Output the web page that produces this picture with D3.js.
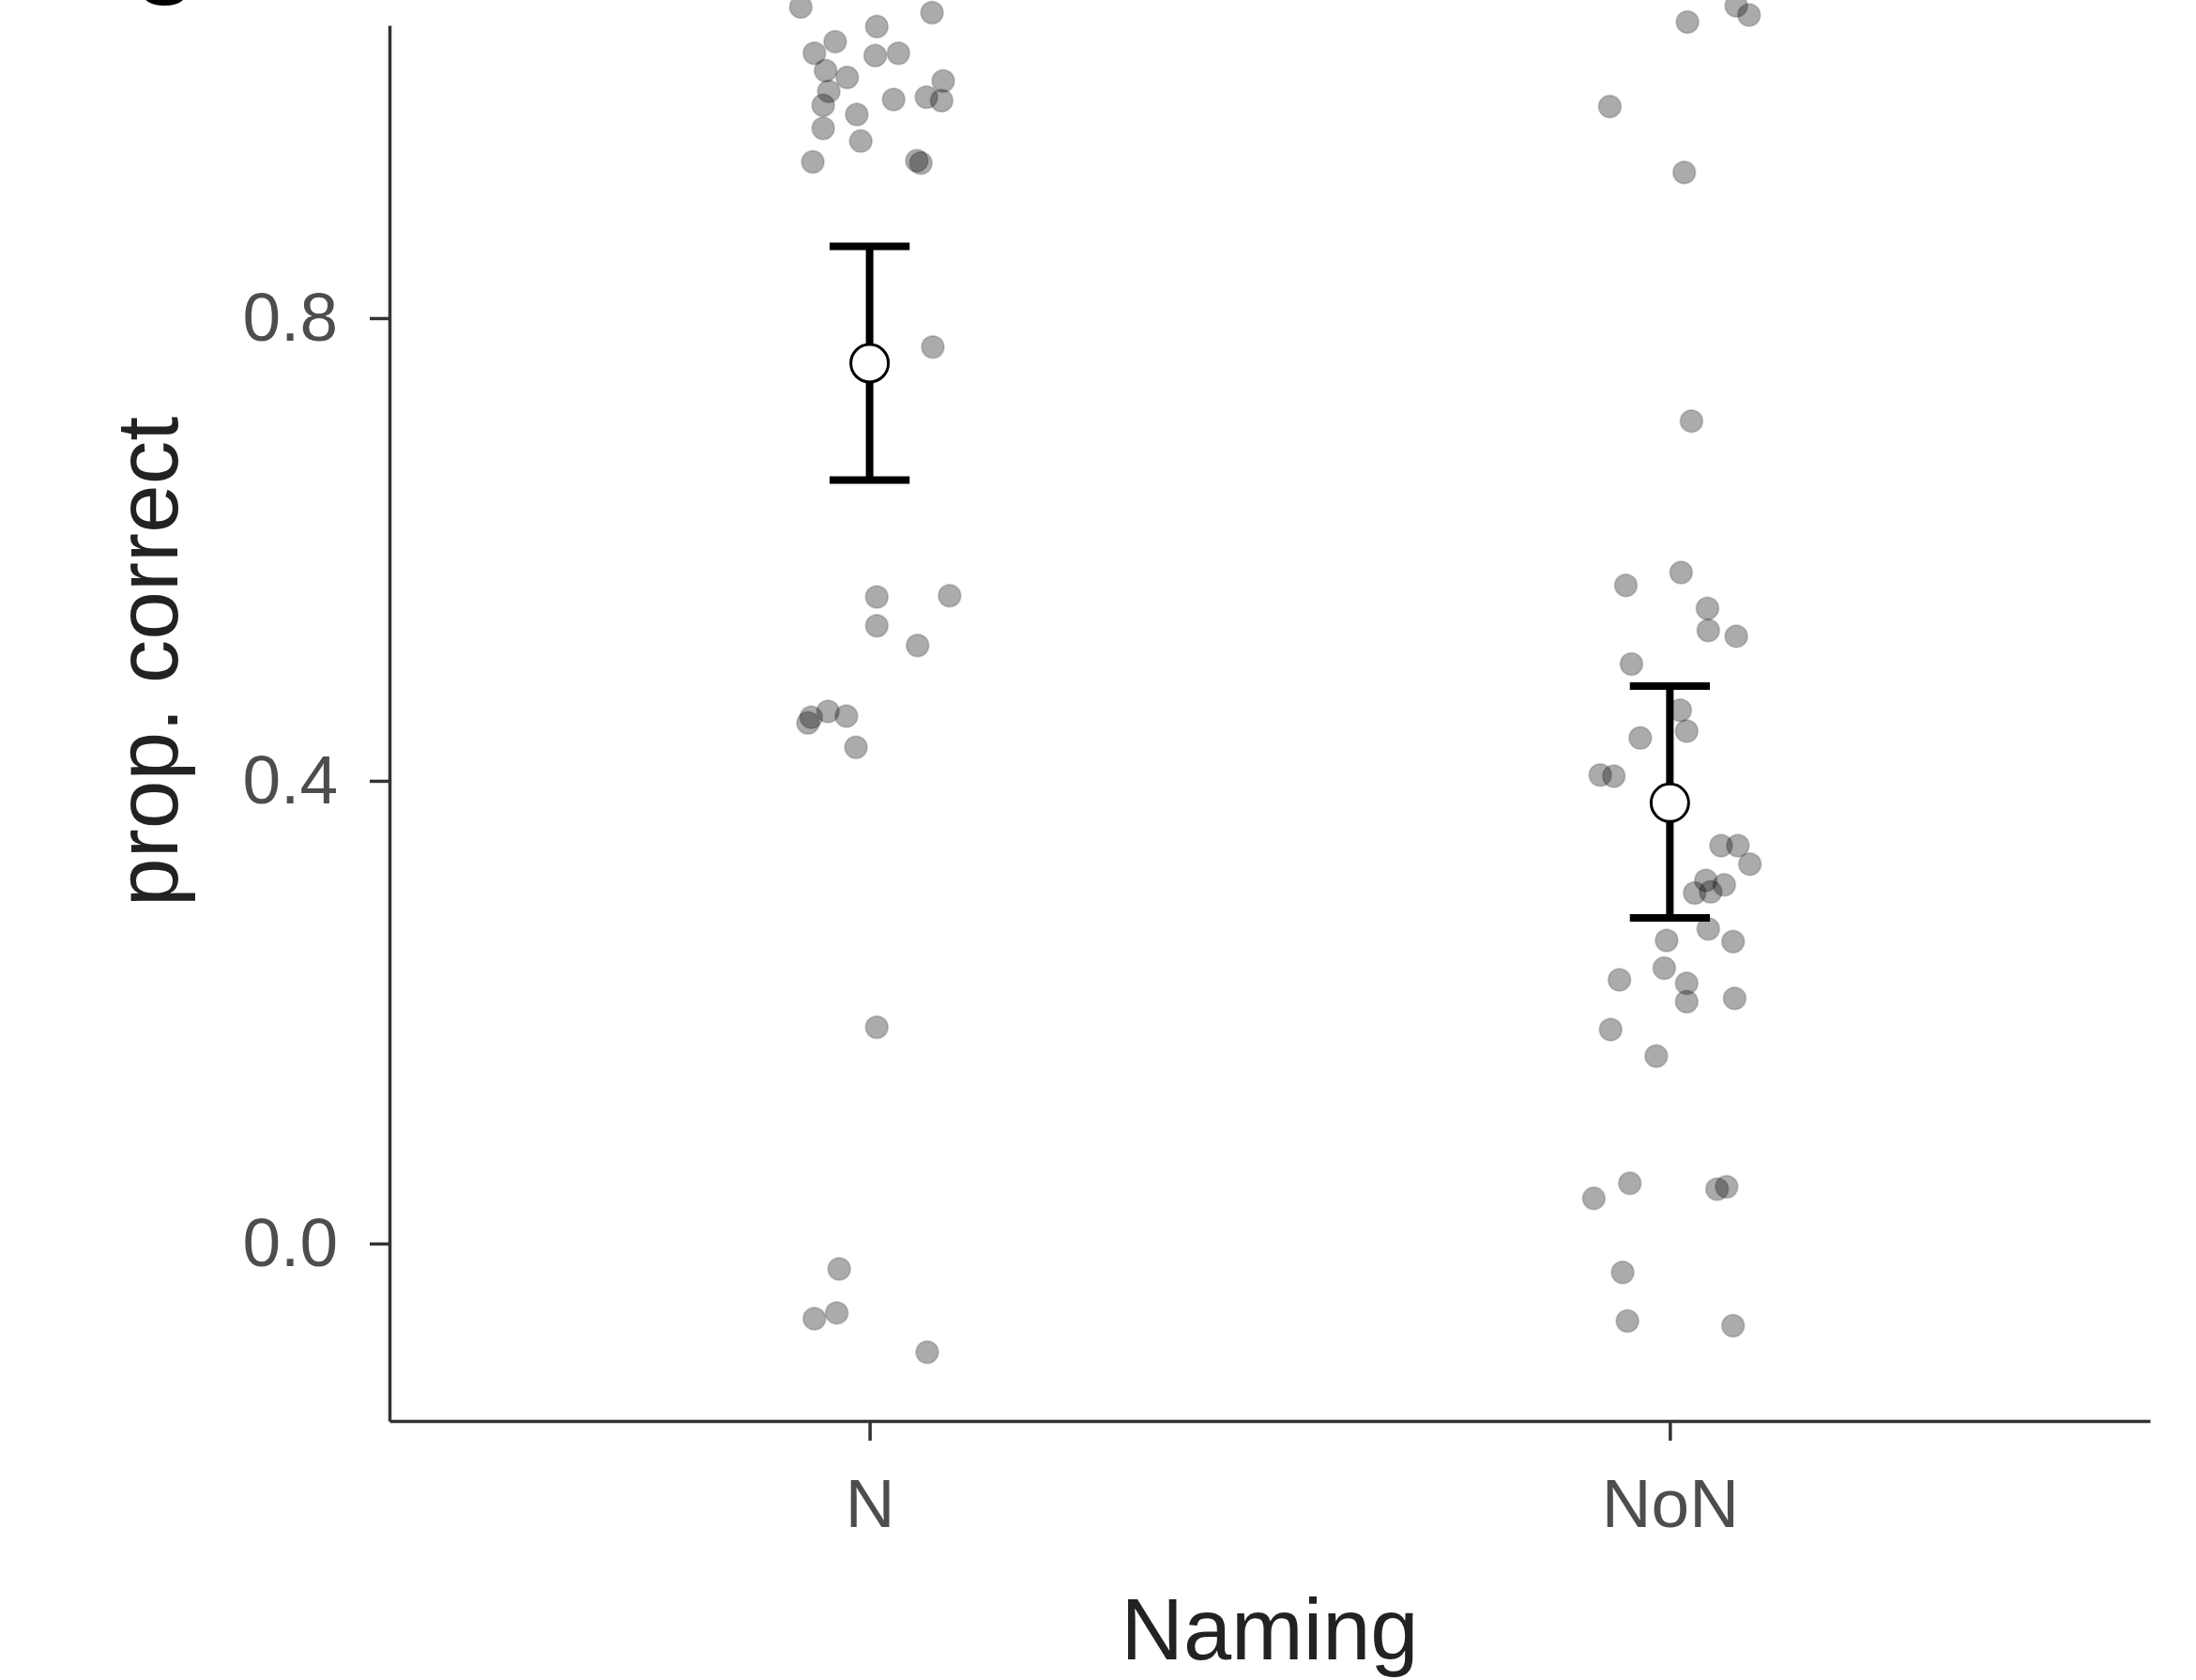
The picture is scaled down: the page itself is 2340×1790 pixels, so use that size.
<!DOCTYPE html>
<html>
<head>
<meta charset="utf-8">
<script src="https://cdn.jsdelivr.net/npm/d3@7"></script>
<style>
  body{margin:0;background:#fff;}
  text{font-family:"Liberation Sans", Arial, sans-serif;}
</style>
</head>
<body>
<div class="chart"></div>
<script>
// categories on the x axis (ggplot style: 1, 2)
const categories = ["N", "NoN"];
const categoryPos = [1, 2];
const yTicks = [0, 0.4, 0.8];

// jittered subject points, group N
const nX = [0.914,1.078,1.009,0.957,0.931,1.007,1.036,0.945,0.972,1.092,0.949,1.030,1.071,1.090,0.942,0.984,0.942,0.989,0.929,1.059,1.064,1.079,1.009,1.100,1.009,1.060,0.923,0.927,0.948,0.971,0.983,1.009,0.962,0.931,0.959,1.072];
const nY = [1.069,1.064,1.052,1.039,1.029,1.027,1.029,1.014,1.008,1.005,0.996,0.989,0.991,0.988,0.984,0.976,0.964,0.953,0.935,0.936,0.934,0.775,0.559,0.560,0.534,0.517,0.450,0.455,0.460,0.456,0.429,0.187,-0.022,-0.065,-0.060,-0.094];

// jittered subject points, group NoN
const nonX = [2.083,2.099,2.022,1.925,2.018,2.027,1.945,2.014,2.047,2.048,2.083,1.952,2.013,2.021,1.963,1.913,1.930,2.064,2.085,2.100,2.045,2.068,2.031,2.051,2.048,1.996,2.079,1.937,1.993,2.021,2.021,2.081,1.926,1.983,1.905,1.950,2.059,2.071,1.941,1.947,2.079];
const nonY = [1.070,1.062,1.056,0.983,0.926,0.711,0.569,0.580,0.549,0.530,0.525,0.501,0.461,0.443,0.437,0.405,0.404,0.344,0.344,0.328,0.314,0.310,0.303,0.304,0.272,0.262,0.261,0.228,0.238,0.225,0.209,0.212,0.185,0.162,0.039,0.052,0.047,0.049,-0.025,-0.067,-0.071];

// group means and error bars
const means = [0.761, 0.381];
const lower = [0.660, 0.2815];
const upper = [0.862, 0.482];

const points = nX.map((d,i)=>({x:d, y:nY[i]}))
  .concat(nonX.map((d,i)=>({x:d, y:nonY[i]})));
const summary = categories.map((c,i)=>({cat:c, x:categoryPos[i], mean:means[i], lo:lower[i], hi:upper[i]}));

const svg_width = 2340;
const svg_height = 1790;
const panel = {left:415, right:2291, top:27, bottom:1514};

const svg = d3.select('.chart').append('svg')
  .attr('width', svg_width).attr('height', svg_height);

const xScale = d3.scaleLinear().domain([0.4, 2.6]).range([panel.left, panel.right]);
const yScale = d3.scaleLinear().domain([-0.1534, 1.0531]).range([panel.bottom, panel.top]);

// axes
const xAxis = d3.axisBottom(xScale)
  .tickValues(categoryPos)
  .tickFormat((d,i)=>categories[i])
  .tickSizeInner(21).tickSizeOuter(0).tickPadding(40);
const yAxis = d3.axisLeft(yScale)
  .tickValues(yTicks)
  .tickFormat(d3.format('.1f'))
  .tickSizeInner(21).tickSizeOuter(0).tickPadding(34);

const xAxisDraw = svg.append('g').attr('class','x axis')
  .attr('transform',`translate(0,${panel.bottom})`).call(xAxis);
const yAxisDraw = svg.append('g').attr('class','y axis')
  .attr('transform',`translate(${panel.left},0)`).call(yAxis);

svg.selectAll('.axis path, .axis line')
  .attr('stroke','#333').attr('stroke-width',3.5);
svg.selectAll('.axis text')
  .attr('fill','#4d4d4d').style('font-size','73px');
xAxisDraw.selectAll('text').attr('dy','0.71em');

// axis titles
svg.append('text')
  .attr('x',(panel.left+panel.right)/2).attr('y',1768)
  .attr('text-anchor','middle').attr('fill','#222')
  .style('font-size','92px').text('Naming');
svg.append('text')
  .attr('transform','translate(189,705) rotate(-90)')
  .attr('text-anchor','middle').attr('fill','#222')
  .style('font-size','93px').text('prop. correct');

// cut-off letter from the figure title above
svg.append('text')
  .attr('x',143).attr('y',-17)
  .attr('fill','#000').style('font-size','110px').style('font-weight','bold')
  .text('g');

// jittered points
svg.append('g').attr('class','points')
  .selectAll('circle').data(points).join('circle')
  .attr('cx',d=>xScale(d.x)).attr('cy',d=>yScale(d.y))
  .attr('r',12)
  .attr('fill','#000').attr('fill-opacity',0.33)
  .attr('stroke','#000').attr('stroke-opacity',0.14).attr('stroke-width',2);

// error bars
const capHalf = 0.05;
const bars = svg.append('g').attr('class','errorbars')
  .attr('stroke','#000').attr('stroke-width',8).attr('fill','none');
bars.selectAll('.stem').data(summary).join('line').attr('class','stem')
  .attr('x1',d=>xScale(d.x)).attr('x2',d=>xScale(d.x))
  .attr('y1',d=>yScale(d.lo)).attr('y2',d=>yScale(d.hi));
bars.selectAll('.capTop').data(summary).join('line').attr('class','capTop')
  .attr('x1',d=>xScale(d.x-capHalf)).attr('x2',d=>xScale(d.x+capHalf))
  .attr('y1',d=>yScale(d.hi)).attr('y2',d=>yScale(d.hi));
bars.selectAll('.capBot').data(summary).join('line').attr('class','capBot')
  .attr('x1',d=>xScale(d.x-capHalf)).attr('x2',d=>xScale(d.x+capHalf))
  .attr('y1',d=>yScale(d.lo)).attr('y2',d=>yScale(d.lo));

// means
svg.append('g').attr('class','means')
  .selectAll('circle').data(summary).join('circle')
  .attr('cx',d=>xScale(d.x)).attr('cy',d=>yScale(d.mean))
  .attr('r',20)
  .attr('fill','#fff').attr('stroke','#000').attr('stroke-width',3);
</script>
</body>
</html>
